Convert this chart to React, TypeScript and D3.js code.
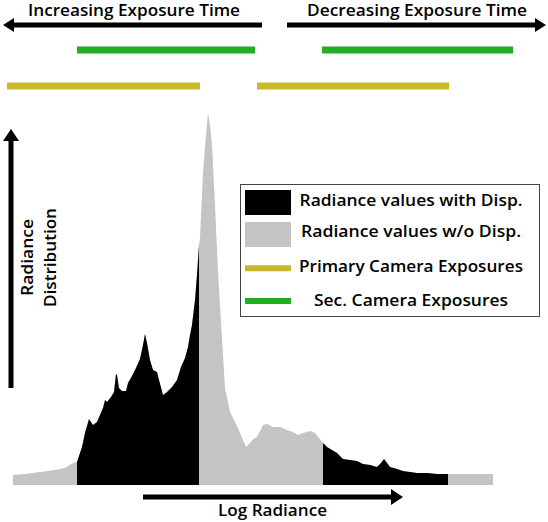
import React from "react";
import * as d3 from "d3";

// Histogram profile (log radiance bin, count)
const logRadiance = [0, 12, 27, 42, 52, 60, 64, 69, 72, 76, 80, 84, 87, 90, 92, 94, 98, 101, 103, 104, 106, 109, 113, 115, 119, 123, 127, 130, 132, 134, 137, 140, 144, 146, 150, 154, 159, 164, 168, 172, 175, 177, 179, 182, 184, 186, 187, 190, 193, 195, 197, 199, 202, 205, 209, 212, 217, 222, 225, 229, 233, 237, 239, 244, 250, 254, 260, 267, 274, 280, 285, 290, 297, 302, 306, 310, 314, 319, 324, 330, 337, 344, 350, 357, 364, 368, 371, 374, 377, 384, 390, 397, 404, 414, 424, 435, 457, 480];
const density = [10, 11, 13, 15, 17, 22, 23, 38, 52, 66, 60, 63, 70, 77, 85, 83, 88, 93, 111, 110, 97, 94, 94, 102, 109, 117, 126, 140, 151, 142, 125, 115, 113, 105, 90, 93, 98, 105, 118, 127, 138, 150, 160, 185, 210, 240, 247, 313, 350, 372, 360, 340, 280, 213, 147, 97, 73, 63, 57, 47, 38, 42, 45, 48, 60, 61, 58, 58, 55, 53, 50, 52, 54, 52, 47, 42, 38, 35, 32, 26, 25, 24, 21, 20, 18, 22, 26, 22, 18, 16, 14, 13, 12, 12, 11, 11, 11, 11];

// Regions with disparity (black)
const disparityRanges: [number, number][] = [[64, 186], [310, 435]];
// Camera exposure ranges
const primaryExposures: [number, number][] = [[-6, 187], [244, 436]];
const secondaryExposures: [number, number][] = [[64, 242], [309, 500]];

const topLabels = ["Increasing Exposure Time", "Decreasing Exposure Time"];
const xLabel = "Log Radiance";
const yLabel = ["Radiance", "Distribution"];
const legendLabels = [
  "Radiance values with Disp.",
  "Radiance values w/o Disp.",
  "Primary Camera Exposures",
  "Sec. Camera Exposures",
];

const BLACK = "#000000";
const GREY = "#c4c4c4";
const YELLOW = "#c8b92a";
const GREEN = "#22ad22";
const FONT = "'Open Sans', 'Noto Sans', sans-serif";

export default function App() {
  const x = d3.scaleLinear().domain([0, 480]).range([13, 493]);
  const y = d3.scaleLinear().domain([0, 372]).range([485, 113]);
  const row = d3.scalePoint<string>().domain(["sec", "pri"]).range([50, 86]);

  const pts = logRadiance.map((v, i) => [v, density[i]] as [number, number]);
  const area = d3
    .area<[number, number]>()
    .x((d) => x(d[0]))
    .y0(y(0))
    .y1((d) => y(d[1]))
    .curve(d3.curveLinear);
  const areaPath = area(pts) || "";

  const legendRows = d3.scalePoint<number>().domain([0, 1, 2, 3]).range([203, 301]);
  const legendTextY = [206, 237, 272, 306];
  const legendTextW = [223, 220, 224, 194];

  const arrowH = (x1: number, x2: number, yy: number, w: number, hl: number, hw: number) => {
    const dir = Math.sign(x2 - x1);
    const base = x2 - dir * hl;
    return (
      <g>
        <line x1={x1} y1={yy} x2={base} y2={yy} stroke={BLACK} strokeWidth={w} />
        <polygon points={`${x2},${yy} ${base},${yy - hw} ${base},${yy + hw}`} fill={BLACK} />
      </g>
    );
  };

  const txtProps = { fill: BLACK, fontWeight: 600, lengthAdjust: "spacingAndGlyphs" as const };

  return (
    <svg
      width={548}
      height={522}
      style={{ position: "absolute", left: 0, top: 0, background: "#fff" }}
      fontFamily={FONT}
    >
      <defs>
        <clipPath id="disp">
          {disparityRanges.map(([a, b], i) => (
            <rect key={i} x={x(a)} y={0} width={x(b) - x(a)} height={522} />
          ))}
        </clipPath>
      </defs>

      {/* top arrows */}
      {arrowH(262, 3, 25, 5, 11, 7)}
      {arrowH(287, 546, 25, 5, 11, 7)}
      <text x={28} y={16} fontSize={16} textLength={212} {...txtProps}>
        {topLabels[0]}
      </text>
      <text x={307} y={16} fontSize={16} textLength={220} {...txtProps}>
        {topLabels[1]}
      </text>

      {/* exposure bars */}
      {secondaryExposures.map(([a, b], i) => (
        <line key={"s" + i} x1={x(a)} x2={x(b)} y1={row("sec")} y2={row("sec")} stroke={GREEN} strokeWidth={7} />
      ))}
      {primaryExposures.map(([a, b], i) => (
        <line key={"p" + i} x1={x(a)} x2={x(b)} y1={row("pri")} y2={row("pri")} stroke={YELLOW} strokeWidth={7} />
      ))}

      {/* histogram */}
      <path d={areaPath} fill={GREY} />
      <path d={areaPath} fill={BLACK} clipPath="url(#disp)" />

      {/* y arrow */}
      <line x1={11} y1={388} x2={11} y2={140} stroke={BLACK} strokeWidth={5} />
      <polygon points={`11,129 3,141 19,141`} fill={BLACK} />
      <text transform="translate(33,296) rotate(-90)" fontSize={16} textLength={77} {...txtProps}>
        {yLabel[0]}
      </text>
      <text transform="translate(56,307) rotate(-90)" fontSize={16} textLength={99} {...txtProps}>
        {yLabel[1]}
      </text>

      {/* x arrow */}
      {arrowH(143, 403, 497, 5, 12, 8)}
      <text x={218} y={516} fontSize={16.5} textLength={109} {...txtProps}>
        {xLabel}
      </text>

      {/* legend */}
      <rect x={240.5} y={184.5} width={299} height={132} fill="#fff" stroke="#444" strokeWidth={1} />
      <rect x={245} y={190} width={46} height={25} fill={BLACK} />
      <rect x={245} y={222} width={46} height={25} fill={GREY} />
      <line x1={245} x2={291} y1={legendRows(2)!} y2={legendRows(2)!} stroke={YELLOW} strokeWidth={6} />
      <line x1={245} x2={291} y1={legendRows(3)!} y2={legendRows(3)!} stroke={GREEN} strokeWidth={6} />
      {legendLabels.map((t, i) => (
        <text key={i} x={411 - legendTextW[i] / 2} y={legendTextY[i]} fontSize={16} textLength={legendTextW[i]} {...txtProps}>
          {t}
        </text>
      ))}
    </svg>
  );
}
